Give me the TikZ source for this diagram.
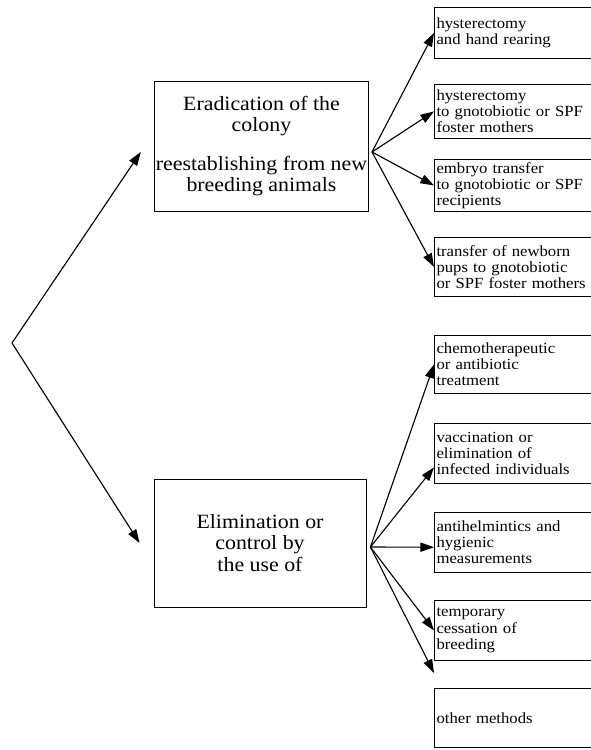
\documentclass[tikz,border=0pt]{standalone}
\usepackage{fontspec}
\setmainfont[FakeStretch=1.08]{Liberation Serif}
\usetikzlibrary{arrows.meta,positioning,calc}

\begin{document}
\begin{tikzpicture}[x=0.025cm, y=-0.025cm, >={Triangle[length=3.4mm,width=2.3mm]},
  mainbox/.style={draw, semithick, minimum width=5.3cm, minimum height=3.2cm, inner xsep=1pt, align=center, font=\fontsize{14.4}{15}\selectfont},
  subbox/.style={draw, semithick, anchor=north west, minimum width=3.9cm, text width=3.82cm, inner sep=1.5pt, align=left, font=\fontsize{11}{11.5}\selectfont},
  link/.style={->, thick}]
  \useasboundingbox (0,0) rectangle (591,750);

  \node[mainbox, minimum height=3.25cm] (erad) at (261.5,146) {Eradication of the\\colony\\[0.9em]reestablishing from new\\breeding animals};
  \node[mainbox] (elim) at (260,543) {Elimination or\\control by\\the use of};

  % ways of reestablishing
  \node[subbox, minimum height=1.275cm] (hand) at (434,7) {hysterectomy\\and hand rearing};
  \node[subbox, minimum height=1.35cm] (foster) at (434,84) {hysterectomy\\to gnotobiotic or SPF\\foster mothers};
  \node[subbox, minimum height=1.3cm] (embryo) at (434,159) {embryo transfer\\to gnotobiotic or SPF\\recipients};
  \node[subbox, minimum height=1.475cm] (newborn) at (434,237) {transfer of newborn\\pups to gnotobiotic\\or SPF foster mothers};

  % ways of control
  \node[subbox, minimum height=1.45cm] (chemo) at (434,335) {chemotherapeutic\\or antibiotic\\treatment};
  \node[subbox, minimum height=1.5cm] (vacc) at (434,423) {vaccination or\\elimination of\\infected individuals};
  \node[subbox, minimum height=1.5cm] (hyg) at (434,512) {antihelmintics and\\hygienic\\measurements};
  \node[subbox, minimum height=1.5cm] (pause) at (434,600) {temporary\\cessation of\\breeding};
  \node[subbox, minimum height=1.475cm] (other) at (434,688) {other methods};

  \coordinate (split) at (12,343);
  \coordinate (eradout) at ([xshift=0.075cm,yshift=-0.15cm]erad.east);
  \coordinate (elimout) at ([xshift=0.1cm,yshift=-0.1cm]elim.east);

  \draw[link] (split) -- ([xshift=-0.33cm,yshift=-0.15cm]erad.west);
  \draw[link] (split) -- ([xshift=-0.35cm]elim.west);

  \draw[link] (eradout) -- (hand.west);
  \draw[link] (eradout) -- (foster.west);
  \draw[link] (eradout) -- (embryo.west);
  \draw[link] (eradout) -- (newborn.west);

  \draw[link] (elimout) -- (chemo.west);
  \draw[link] (elimout) -- ([yshift=-0.35cm]vacc.west);
  \draw[link] (elimout) -- ([yshift=-0.12cm]hyg.west);
  \draw[link] (elimout) -- (pause.west);
  \draw[link] (elimout) -- ([yshift=0.375cm]other.north west);
\end{tikzpicture}
\end{document}
